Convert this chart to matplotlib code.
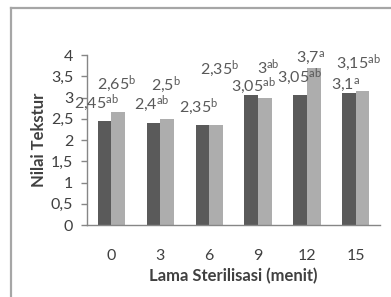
import matplotlib
matplotlib.use("Agg")
import matplotlib.pyplot as plt
from matplotlib.lines import Line2D
import numpy as np

categories = ["0", "3", "6", "9", "12", "15"]
series_dark = [2.45, 2.4, 2.35, 3.05, 3.05, 3.1]
series_light = [2.65, 2.5, 2.35, 3.0, 3.7, 3.15]
labels_dark = [("2,45", "ab"), ("2,4", "ab"), ("2,35", "b"), ("3,05", "ab"), ("3,05", "ab"), ("3,1", "a")]
labels_light = [("2,65", "b"), ("2,5", "b"), ("2,35", "b"), ("3", "ab"), ("3,7", "a"), ("3,15", "ab")]
yticks = [0, 0.5, 1, 1.5, 2, 2.5, 3, 3.5, 4]
ytick_labels = ["0", "0,5", "1", "1,5", "2", "2,5", "3", "3,5", "4"]

# label offsets in pixels (dx, dy above bar top) - layout only
off_dark = [(-8, 17), (-2, 19), (-4, 18), (2, 9), (-1, 18), (-3, 8)]
off_light = [(-2, 28), (-1, 33), (4, 56), (3, 30), (-3, 9), (-4, 28)]

plt.rcParams["font.family"] = ["Lato", "DejaVu Sans"]
plt.rcParams["mathtext.fontset"] = "custom"
plt.rcParams["mathtext.rm"] = "Lato"
plt.rcParams["mathtext.it"] = "Lato"
plt.rcParams["mathtext.bf"] = "Lato:bold"

fig = plt.figure(figsize=(3.91, 2.97), dpi=100)
ax = fig.add_axes([0.2225, 0.2424, 0.75, 0.5724])

x = np.arange(len(categories))
w = 0.28
dark = "#5a5a5a"
light = "#adadad"
ax.bar(x - w / 2, series_dark, w, color=dark, edgecolor="none")
ax.bar(x + w / 2, series_light, w, color=light, edgecolor="none")

txt_color = "#595959"
fs = 11.5
for i in range(len(categories)):
    v, s = labels_dark[i]
    ax.annotate(v + r"$^{\mathrm{" + s + "}}$", (x[i] - w / 2, series_dark[i]),
                xytext=off_dark[i], textcoords="offset pixels",
                ha="center", va="center", fontsize=fs, color=txt_color)
    v, s = labels_light[i]
    ax.annotate(v + r"$^{\mathrm{" + s + "}}$", (x[i] + w / 2, series_light[i]),
                xytext=off_light[i], textcoords="offset pixels",
                ha="center", va="center", fontsize=fs, color=txt_color)

ax.set_xlim(-0.5, len(categories) - 0.5)
ax.set_ylim(0, 4)
ax.set_yticks(yticks)
ax.set_yticklabels(ytick_labels)
ax.set_xticks(x)
ax.set_xticklabels(categories)
ax.tick_params(axis="y", length=4, width=1, color="#868686", labelsize=fs, labelcolor="#404040", pad=6)
ax.tick_params(axis="x", length=0, labelsize=fs, labelcolor="#404040", pad=17)
for sp in ["top", "right"]:
    ax.spines[sp].set_visible(False)
for sp in ["left", "bottom"]:
    ax.spines[sp].set_color("#868686")
    ax.spines[sp].set_linewidth(1)

ax.set_xlabel("Lama Sterilisasi (menit)", fontsize=fs + 0.5, fontweight="bold", color="#404040", labelpad=4)
ax.set_ylabel("Nilai Tekstur", fontsize=fs + 0.5, fontweight="bold", color="#404040", labelpad=3)

# outer frame (gray border)
W, H = 391, 297
fig.add_artist(Line2D([11 / W, 11 / W], [0, 1 - 8 / H], transform=fig.transFigure, color="#a6a6a6", lw=1.6))
fig.add_artist(Line2D([11 / W, 1], [1 - 8 / H, 1 - 8 / H], transform=fig.transFigure, color="#a6a6a6", lw=1.6))

fig.savefig("out.png", dpi=100)
